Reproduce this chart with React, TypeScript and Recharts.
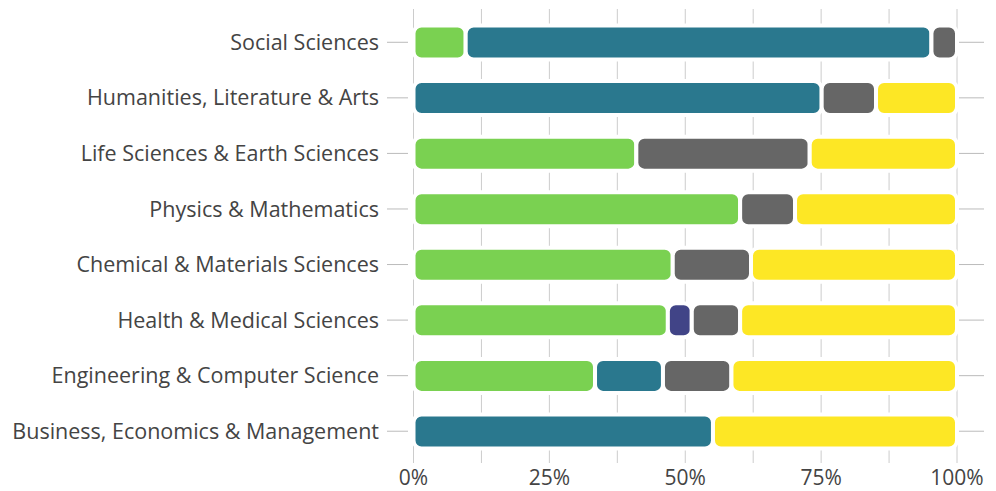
import { BarChart, Bar, XAxis, YAxis, CartesianGrid } from 'recharts';

const fields = [
  'Social Sciences',
  'Humanities, Literature & Arts',
  'Life Sciences & Earth Sciences',
  'Physics & Mathematics',
  'Chemical & Materials Sciences',
  'Health & Medical Sciences',
  'Engineering & Computer Science',
  'Business, Economics & Management',
];

const greenShare = [9.6, 0, 41.0, 60.1, 47.7, 46.8, 33.4, 0];
const tealShare = [85.7, 75.1, 0, 0, 0, 0, 12.5, 55.1];
const indigoShare = [0, 0, 0, 0, 0, 4.4, 0, 0];
const grayShare = [4.7, 10.0, 31.9, 10.1, 14.4, 8.9, 12.6, 0];
const yellowShare = [0, 14.9, 27.1, 29.8, 37.9, 39.9, 41.5, 44.9];

const xTicks = [0, 12.5, 25, 37.5, 50, 62.5, 75, 87.5, 100];

const data = fields.map((name, i) => ({
  name,
  green: greenShare[i],
  teal: tealShare[i],
  indigo: indigoShare[i],
  gray: grayShare[i],
  yellow: yellowShare[i],
}));

const font = '"Open Sans", sans-serif';
const yTickStyle = { fill: '#444', fontSize: 21.5, fontFamily: font };
const xTickStyle = { fill: '#444', fontSize: 21, fontFamily: font };

const series = [
  { key: 'green', color: '#7AD151' },
  { key: 'teal', color: '#2A788E' },
  { key: 'indigo', color: '#414487' },
  { key: 'gray', color: '#666666' },
  { key: 'yellow', color: '#FDE725' },
];

export default function App() {
  return (
    <div style={{ position: 'absolute', left: 0, top: 0 }}>
      <BarChart
        width={996}
        height={491}
        data={data}
        layout="vertical"
        margin={{ top: 9, right: 0, bottom: 8, left: 0 }}
        barSize={34}
      >
        <CartesianGrid horizontal={false} stroke="#cccccc" syncWithTicks />
        <XAxis
          type="number"
          domain={[0, 100]}
          ticks={xTicks}
          tickFormatter={(v: number) => (v % 25 === 0 ? `${v}%` : '')}
          padding={{ left: 5.5, right: 2 }}
          axisLine={false}
          tickLine={false}
          height={20}
          tickMargin={1}
          tick={xTickStyle}
          interval={0}
        />
        <YAxis
          yAxisId="l"
          type="category"
          dataKey="name"
          width={408}
          tickSize={21}
          tickMargin={8}
          axisLine={false}
          tickLine={{ stroke: '#bbbbbb' }}
          padding={{ top: 5.5, bottom: 4 }}
          tick={yTickStyle}
          interval={0}
        />
        <YAxis
          yAxisId="r"
          orientation="right"
          type="category"
          dataKey="name"
          width={37}
          tickSize={25}
          axisLine={false}
          tickLine={{ stroke: '#bbbbbb' }}
          tickFormatter={() => ''}
          padding={{ top: 5.5, bottom: 4 }}
          interval={0}
        />
        {series.map((s) => (
          <Bar
            key={s.key}
            dataKey={s.key}
            yAxisId="l"
            stackId="share"
            fill={s.color}
            stroke="#ffffff"
            strokeWidth={4}
            radius={8}
            isAnimationActive={false}
          />
        ))}
      </BarChart>
    </div>
  );
}
